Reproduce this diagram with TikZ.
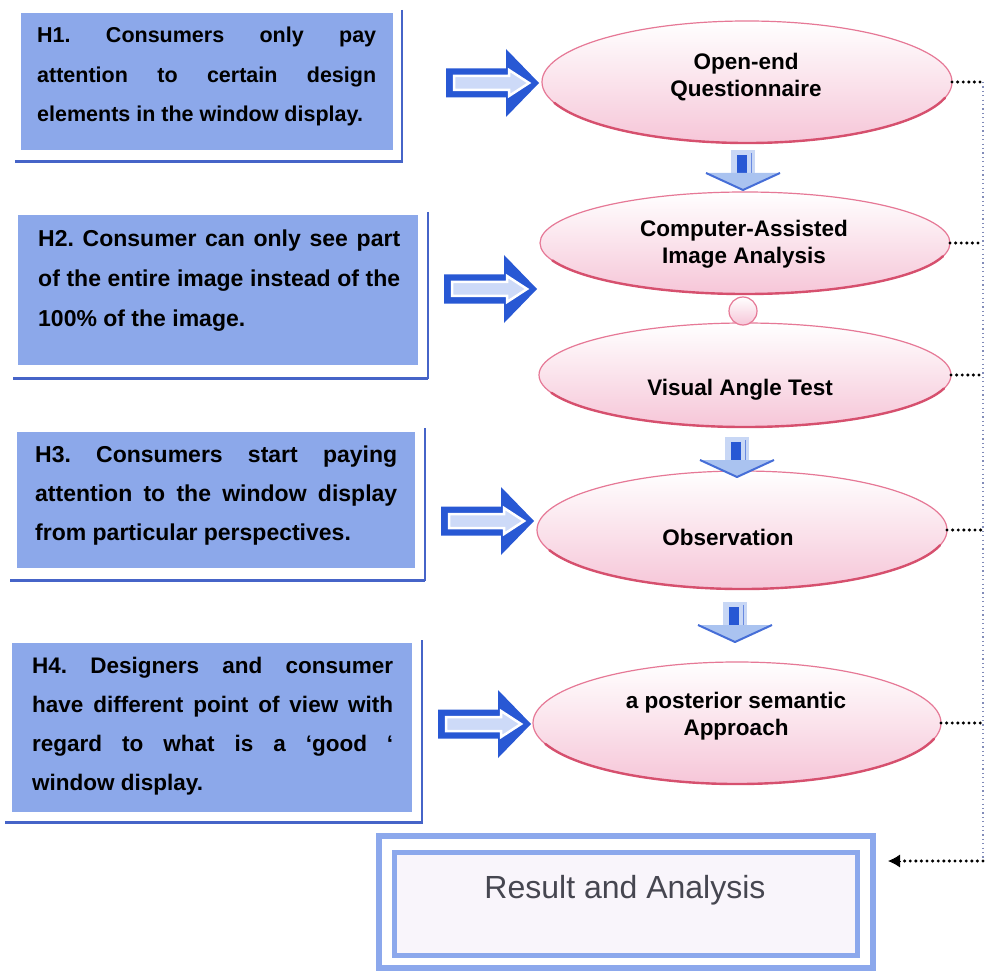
\documentclass[tikz,border=0pt]{standalone}
\usepackage{fontspec}
\setmainfont{Liberation Sans}
\usetikzlibrary{shapes.geometric, arrows.meta}
\frenchspacing

\definecolor{hfill}{RGB}{140,168,234}
\definecolor{hline}{RGB}{70,100,200}
\definecolor{barrow}{RGB}{40,88,212}
\definecolor{bin}{RGB}{205,218,248}
\definecolor{epink}{RGB}{246,198,216}
\definecolor{eline}{RGB}{230,120,150}
\definecolor{edark}{RGB}{214,80,110}
\definecolor{rframe}{RGB}{140,168,236}
\definecolor{rin}{RGB}{249,245,251}
\definecolor{railc}{RGB}{130,140,185}
\definecolor{rtext}{RGB}{70,70,80}
\definecolor{dshaft}{RGB}{200,215,245}
\definecolor{dchev}{RGB}{170,195,240}
\definecolor{dchevl}{RGB}{70,110,215}

\begin{document}
\begin{tikzpicture}[x=1pt, y=-1pt,
  hbox/.style={fill=hfill, draw=none, inner sep=0, outer sep=0},
  hfr/.style={draw=hline, line width=1.5pt},
  hfrb/.style={draw=hline, line width=3pt},
  htext/.style={anchor=base west, inner sep=0, font=\bfseries},
  ell/.style={ellipse, draw=eline, line width=1.2pt, top color=white, bottom color=epink, inner sep=0, outer sep=0},
  eshade/.style={draw=edark, line width=2.4pt, line cap=round},
  etext/.style={anchor=base, inner sep=0, font={\bfseries\fontsize{22.5}{27}\selectfont}},
  rail/.style={draw=railc, line width=1.5pt, dash pattern=on 1.2pt off 3.2pt},
  stub/.style={draw=black, line width=3.4pt, line cap=round, dash pattern=on 0pt off 5.6pt},
]
\fill[white] (0,0) rectangle (992,973);
\useasboundingbox (0,0) rectangle (992,973);

% ---------- hypothesis boxes ----------
\node[hbox, minimum width=372pt, minimum height=137pt] (b1) at (207,81.5) {};
\draw[hfr] (402,10) -- (402,163);
\draw[hfrb] (15,162) -- (402,162);
\node[htext] (h1) at (37,43) {\parbox[t]{339pt}{\fontsize{21.5}{39.5}\selectfont
  \makebox[339pt][s]{H1. Consumers only pay}\\
  \makebox[339pt][s]{attention to certain design}\\
  elements in the window display.}};

\node[hbox, minimum width=400pt, minimum height=150pt] (b2) at (218,290) {};
\draw[hfr] (428,212) -- (428,379);
\draw[hfrb] (13,378) -- (428,378);
\node[htext] (h2) at (38,247) {\parbox[t]{362pt}{\fontsize{23}{40}\selectfont
  \makebox[362pt][s]{H2. Consumer can only see part}\\
  \makebox[362pt][s]{of the entire image instead of the}\\
  100\% of the image.}};

\node[hbox, minimum width=398pt, minimum height=136pt] (b3) at (216,500) {};
\draw[hfr] (425,428) -- (425,581);
\draw[hfrb] (10,580) -- (425,580);
\node[htext] (h3) at (35,462) {\parbox[t]{362pt}{\fontsize{23}{39}\selectfont
  \makebox[362pt][s]{H3. Consumers start paying}\\
  \makebox[362pt][s]{attention to the window display}\\
  from particular perspectives.}};

\node[hbox, minimum width=400pt, minimum height=169pt] (b4) at (212,727.5) {};
\draw[hfr] (422,640) -- (422,824);
\draw[hfrb] (5,822) -- (422,822);
\node[htext] (h4) at (32,673) {\parbox[t]{361pt}{\fontsize{22.5}{39}\selectfont
  \makebox[361pt][s]{H4. Designers and consumer}\\
  \makebox[361pt][s]{have different point of view with}\\
  \makebox[361pt][s]{regard to what is a ‘good ‘}\\
  window display.}};

% ---------- right block arrows ----------
\foreach \x/\y in {446/83, 444/289, 441/521, 438/724} {
  \begin{scope}[shift={(\x,\y)}]
    \fill[barrow] (0,-14.5) -- (60,-14.5) -- (60,-34) -- (93,0) -- (60,34) -- (60,14.5) -- (0,14.5) -- cycle;
    \draw[white, line width=2.5pt, fill=bin, line join=miter]
      (8,-7) -- (63,-7) -- (63,-13) -- (83,0) -- (63,13) -- (63,7) -- (8,7) -- cycle;
  \end{scope}
}

% ---------- ellipses ----------
\node[ell, minimum width=410pt, minimum height=122pt] (e1) at (747,82) {};
\draw[eshade] (e1.center) ++(200:205pt and 61pt) arc[start angle=200, end angle=345, x radius=205pt, y radius=61pt];
\node[ell, minimum width=410pt, minimum height=102pt] (e2) at (745,243) {};
\draw[eshade] (e2.center) ++(200:205pt and 51pt) arc[start angle=200, end angle=345, x radius=205pt, y radius=51pt];
\node[ell, minimum width=412pt, minimum height=104pt] (e3) at (745,375) {};
\draw[eshade] (e3.center) ++(200:206pt and 52pt) arc[start angle=200, end angle=345, x radius=206pt, y radius=52pt];
\node[ell, minimum width=410pt, minimum height=118pt] (e4) at (742,530) {};
\draw[eshade] (e4.center) ++(200:205pt and 59pt) arc[start angle=200, end angle=345, x radius=205pt, y radius=59pt];
\node[ell, minimum width=408pt, minimum height=122pt] (e5) at (737,723) {};
\draw[eshade] (e5.center) ++(200:204pt and 61pt) arc[start angle=200, end angle=345, x radius=204pt, y radius=61pt];
\node[circle, draw=eline, line width=1.2pt, top color=white, bottom color=epink, minimum size=28pt, inner sep=0] (c1) at (743,311) {};

\node[etext] (t1) at (746,70) {\parbox[t]{300pt}{\centering Open-end\\Questionnaire}};
\node[etext] (t2) at (744,237) {\parbox[t]{300pt}{\centering Computer-Assisted\\Image Analysis}};
\node[etext] (t3) at (740,395) {Visual Angle Test};
\node[etext] (t4) at (728,545) {Observation};
\node[etext] (t5) at (736,708) {\parbox[t]{300pt}{\centering a posterior semantic\\Approach}};

% ---------- down block arrows ----------
\foreach \cx/\ty in {743/150, 737/437, 735/602} {
  \begin{scope}[shift={(\cx,\ty)}]
    \fill[dshaft] (-12,0) rectangle (12,26);
    \fill[barrow] (-6,5) rectangle (4,27);
    \draw[barrow!70, line width=1pt] (8,3) -- (8,24);
    \fill[dchev] (-37,23) -- (37,23) -- (0,40) -- cycle;
    \draw[dchevl, line width=2pt, line join=round] (-37,23) -- (0,40) -- (37,23);
  \end{scope}
}

% ---------- result box ----------
\node[draw=rframe, line width=6pt, minimum width=494pt, minimum height=132pt, inner sep=0] (resout) at (626,902) {};
\node[draw=rframe, fill=rin, line width=5pt, minimum width=463pt, minimum height=103pt, inner sep=0] (res) at (626,904) {};
\node[anchor=base, inner sep=0, font=\fontsize{32}{38}\selectfont, text=rtext] (rt) at (625,898) {Result and Analysis};

% ---------- dotted connectors ----------
\coordinate (railtop) at (983,82);
\coordinate (railbot) at (983,861);
\coordinate (resin) at (888,861);
\draw[rail] (railtop) -- (railbot);
\foreach \e in {e1,e2,e3,e4,e5} {
  \draw[stub] (\e.east) -- (\e.east -| railbot);
}
\draw[stub] (railbot) -- ([xshift=11pt]resin);
\draw[line width=1pt, -{Latex[length=12pt,width=13pt]}] ([xshift=12pt]resin) -- (resin);
\end{tikzpicture}
\end{document}
